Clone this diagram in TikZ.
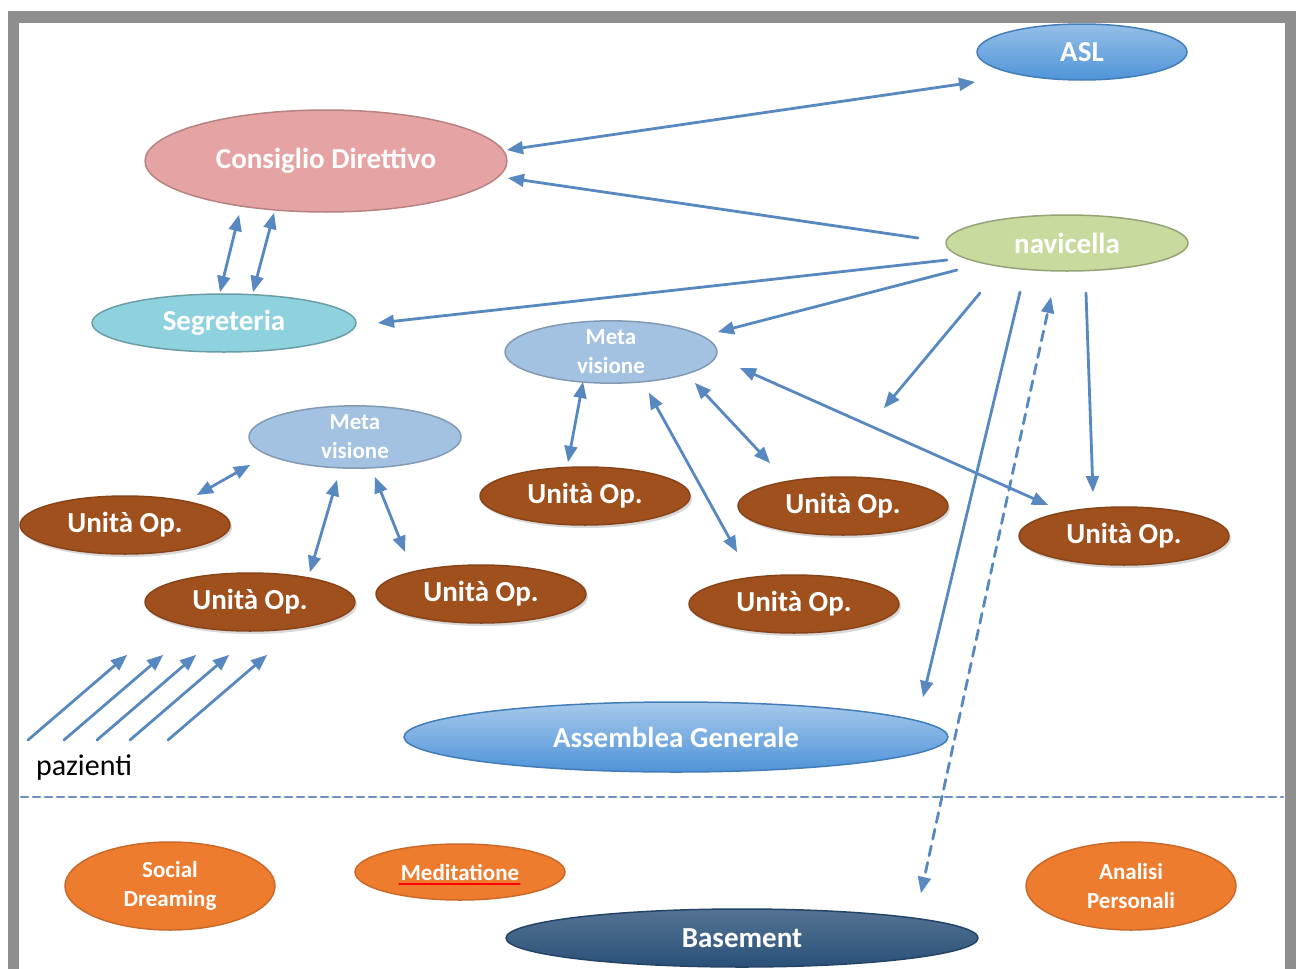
\documentclass[tikz,border=0pt]{standalone}
\usepackage{fontspec}
\setmainfont{Carlito}
\usetikzlibrary{arrows,calc,shapes.geometric,shadows}
\definecolor{framegrey}{HTML}{8E8E8E}
\definecolor{linkblue}{HTML}{5888C0}
\definecolor{dashblue}{HTML}{6A90C2}
\definecolor{aslblue}{HTML}{4F94D8}
\definecolor{conspink}{HTML}{E5A4A3}
\definecolor{navigreen}{HTML}{C8DA9E}
\definecolor{segrcyan}{HTML}{8FD2DF}
\definecolor{metablue}{HTML}{A3C1E0}
\definecolor{uobrown}{HTML}{A0501C}
\definecolor{assemblue}{HTML}{4E93D8}
\definecolor{bodyorange}{HTML}{EE7C2F}
\definecolor{basenavy}{HTML}{2A5078}
\begin{document}
\begin{tikzpicture}[line cap=round,line join=round,>=triangle 45,x=1pt,y=-1pt,
		bubble/.style={ellipse,inner sep=0pt,align=center,text=white,line width=1.5pt,font=\fontsize{29}{32}\selectfont\bfseries},
		little/.style={font=\fontsize{23}{29}\selectfont\bfseries},
		unita/.style={bubble,fill=uobrown,draw=uobrown!85!black,minimum width=210pt,minimum height=58pt,font=\fontsize{29}{32}\selectfont\bfseries,drop shadow={shadow xshift=2pt,shadow yshift=-3pt,opacity=0.3}},
		grounds/.style={bubble,little,fill=bodyorange,draw=bodyorange!85!black,minimum width=210pt},
		link/.style={line width=2.8pt,color=linkblue}]
				\useasboundingbox (0,0) rectangle (1296,969);
				\fill[white] (0,0) rectangle (1296,969);
				\fill[framegrey] (8,11) rectangle (1296,23);
				\fill[framegrey] (8,11) rectangle (19,969);
				\fill[framegrey] (1285,11) rectangle (1296,969);
				\node[bubble,draw=aslblue!85!black,top color=aslblue!60!white,bottom color=aslblue,minimum width=210pt,minimum height=56pt] (asl) at (1082,52) {ASL};
				\node[bubble,fill=conspink,draw=conspink!80!black,minimum width=362pt,minimum height=102pt] (cons) at (326,161) {Consiglio Direttivo};
				\node[bubble,fill=navigreen,draw=navigreen!75!black,minimum width=242pt,minimum height=56pt] (navi) at (1067,243) {navicella};
				\node[bubble,fill=segrcyan,draw=segrcyan!75!black,minimum width=264pt,minimum height=58pt] (segr) at (224,323) {Segreteria};
				\node[bubble,little,fill=metablue,draw=metablue!80!black,minimum width=212pt,minimum height=60pt] (metaA) at (611,352) {Meta\\visione};
				\node[bubble,little,fill=metablue,draw=metablue!80!black,minimum width=212pt,minimum height=60pt] (metaB) at (355,437) {Meta\\visione};
				\node[unita] (uoA) at (125,525) {Unità Op.};
				\node[unita] (uoB) at (250,602) {Unità Op.};
				\node[unita] (uoC) at (481,594) {Unità Op.};
				\node[unita] (uoD) at (585,496) {Unità Op.};
				\node[unita] (uoE) at (843,506) {Unità Op.};
				\node[unita] (uoF) at (794,604) {Unità Op.};
				\node[unita] (uoG) at (1124,536) {Unità Op.};
				\node[bubble,draw=assemblue!85!black,top color=assemblue!50!white,bottom color=assemblue,minimum width=544pt,minimum height=70pt] (assem) at (676,737) {Assemblea Generale};
				\node[font=\fontsize{30}{32}\selectfont,inner sep=0pt] (paz) at (84,768) {pazienti};
				\node[grounds,minimum height=88pt] (social) at (170,886) {Social\\Dreaming};
				\node[grounds,minimum height=56pt] (medit) at (460,872) {Meditatione};
				\node[grounds,minimum height=88pt] (analisi) at (1131,886) {Analisi\\Personali};
				\node[bubble,draw=basenavy!85!black,top color=basenavy!80!white,bottom color=basenavy,minimum width=472pt,minimum height=58pt] (base) at (742,938) {Basement};
				\draw[red,line width=1.2pt] ($(medit)+(-61,12)$) -- ($(medit)+(60,12)$);
				\draw[line width=2.6pt,color=dashblue,dash pattern=on 7pt off 5pt] (21,797) -- (1283,797);
				\coordinate (loose) at ($(navi)+(-183,165)$);
				\draw[link,<->] ($(cons)+(181,-11)$) -- ($(asl)+(-107,30)$);
				\draw[link,->] ($(navi)+(-149,-5)$) -- ($(cons)+(182,17)$);
				\draw[link,<->] ($(cons)+(-87,54)$) -- ($(segr)+(-4,-31)$);
				\draw[link,<->] ($(cons)+(-52,52)$) -- ($(segr)+(29,-31)$);
				\draw[link,->] ($(navi)+(-120,17)$) -- ($(segr)+(154,0)$);
				\draw[link,->] ($(navi)+(-110,27)$) -- ($(metaA)+(107,-20)$);
				\draw[link,->] ($(navi)+(-87,50)$) -- (loose);
				\draw[link,->] ($(navi)+(-47,49)$) -- ($(assem)+(247,-40)$);
				\draw[link,->] ($(navi)+(19,50)$) -- ($(uoG)+(-31,-44)$);
				\draw[link,<->,dash pattern=on 10pt off 7pt] ($(base)+(179,-45)$) -- ($(navi)+(-16,54)$);
				\draw[link,<->] ($(metaA)+(129,16)$) -- ($(uoG)+(-76,-31)$);
				\draw[link,<->] ($(metaA)+(-28,30)$) -- ($(uoD)+(-17,-34)$);
				\draw[link,<->] ($(metaA)+(38,41)$) -- ($(uoF)+(-57,-52)$);
				\draw[link,<->] ($(metaA)+(84,31)$) -- ($(uoE)+(-73,-43)$);
				\draw[link,<->] ($(metaB)+(-105,28)$) -- ($(uoA)+(72,-30)$);
				\draw[link,<->] ($(metaB)+(-18,43)$) -- ($(uoB)+(60,-30)$);
				\draw[link,<->] ($(metaB)+(20,40)$) -- ($(uoC)+(-76,-42)$);
				\foreach \dx in {0,36,69,102,140}
					\draw[link,->] ($(paz)+(-56+\dx,-28)$) -- ($(uoB)+(-123+\dx,53)$);
			\end{tikzpicture}
\end{document}
